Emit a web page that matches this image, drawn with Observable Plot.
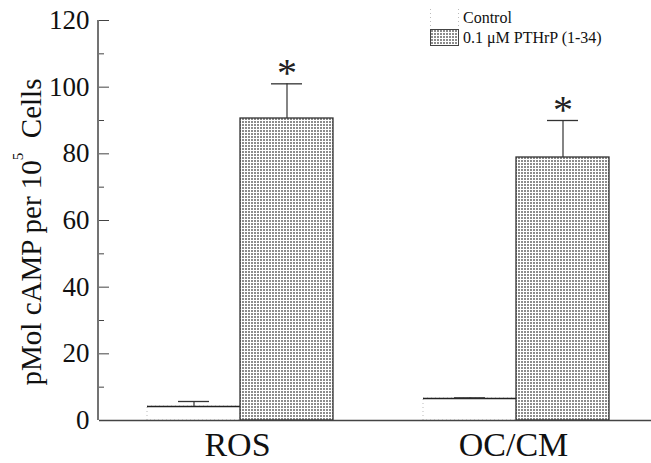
<!DOCTYPE html>
<html>
<head>
<meta charset="utf-8">
<script src="https://cdn.jsdelivr.net/npm/d3@7"></script>
<script src="https://cdn.jsdelivr.net/npm/@observablehq/plot@0.6"></script>
<style>
  html, body { margin: 0; padding: 0; background: #fff; }
  #wrap { position: relative; width: 651px; height: 463px; font-family: "Liberation Serif", "Times New Roman", serif; }
  #legend { position: absolute; left: 430px; top: 8px; font-size: 16px; color: #111; }
  .item { display: flex; align-items: center; height: 19px; margin-bottom: 1px; }
  .item svg { margin-right: 4px; display: block; }
</style>
</head>
<body>
<div id="wrap">
  <div id="chart"></div>
  <div id="legend"></div>
</div>
<script>
const groups = ["ROS", "OC/CM"];
const series = ["Control", "0.1 μM PTHrP (1-34)"];
const controlValues = [4.2, 6.6];
const controlErrors = [1.5, 0.2];
const pthrpValues = [90.6, 78.9];
const pthrpErrors = [10.4, 11.1];
const significant = [true, true];
const yTicks = [0, 20, 40, 60, 80, 100, 120];
const yMinorTicks = [10, 30, 50, 70, 90, 110];
const yLabelMain = "pMol cAMP per 10";
const yLabelSup = "5";
const yLabelEnd = "Cells";

const data = [];
groups.forEach((g, i) => {
  data.push({group: g, series: series[0], value: controlValues[i], err: controlErrors[i], sig: false});
  data.push({group: g, series: series[1], value: pthrpValues[i], err: pthrpErrors[i], sig: significant[i]});
});
const ctrl = data.filter(d => d.series === series[0]);
const pth = data.filter(d => d.series === series[1]);

const font = "Liberation Serif, Times New Roman, serif";

const chart = Plot.plot({
  width: 651,
  height: 463,
  marginLeft: 98,
  marginRight: 0,
  marginTop: 20,
  marginBottom: 43,
  style: {fontFamily: font, color: "#111", background: "#fff"},
  fx: {domain: groups, padding: 0, label: null},
  x: {domain: series, paddingInner: 0, paddingOuter: 0.479, align: 0.536, axis: null},
  y: {domain: [0, 120], label: null},
  marks: [
    Plot.rectY(ctrl, {fx: "group", x: "series", y: "value", fill: "#fff", stroke: "#bbb", strokeDasharray: "1,3", strokeWidth: 1}),
    Plot.tickY(ctrl, {fx: "group", x: "series", y: "value", stroke: "#222", strokeWidth: 1.3}),
    Plot.rectY(pth, {fx: "group", x: "series", y: "value", fill: "url(#stipple)", stroke: "#333", strokeWidth: 1.3}),
    Plot.ruleX(data, {fx: "group", x: "series", y1: "value", y2: d => d.value + d.err, stroke: "#333", strokeWidth: 1.2}),
    Plot.tickY(data, {fx: "group", x: "series", y: d => d.value + d.err, stroke: "#333", strokeWidth: 1.3, insetLeft: 31, insetRight: 31}),
    Plot.text(data.filter(d => d.sig), {fx: "group", x: "series", y: d => d.value + d.err, text: () => "*", fontSize: 40, fill: "#222", dy: 2, lineAnchor: "bottom", fontFamily: font}),
    Plot.ruleY([0], {stroke: "#444", strokeWidth: 1.5}),
    Plot.axisY({ticks: yTicks, tickSize: 0, tickPadding: 10, fontSize: 27, fontFamily: font, fill: "#111", label: null}),
    Plot.axisY({ticks: yTicks, tickSize: -10, text: null, label: null, stroke: "#444"}),
    Plot.axisY({ticks: yMinorTicks, tickSize: -5, text: null, label: null, stroke: "#444"}),
    Plot.axisFx({anchor: "bottom", tickSize: 0, tickPadding: 11, fontSize: 34, fontFamily: font, fill: "#111", label: null})
  ]
});

const svg = d3.select(chart);
const defs = svg.insert("defs", ":first-child");
function addPattern(defsSel, id) {
  const pat = defsSel.append("pattern").attr("id", id).attr("patternUnits", "userSpaceOnUse")
    .attr("width", 3).attr("height", 3);
  pat.append("rect").attr("width", 3).attr("height", 3).attr("fill", "#fff");
  pat.append("rect").attr("x", 1).attr("y", 1).attr("width", 2).attr("height", 2).attr("fill", "#8c8c8c");
}
addPattern(defs, "stipple");

// y axis line, drawn from the y scale
const ys = chart.scale("y");
const [yb, yt] = ys.range;
svg.append("line").attr("x1", 98).attr("x2", 98).attr("y1", yb).attr("y2", yt)
  .attr("stroke", "#444").attr("stroke-width", 1.5);

// y axis label with superscript
const lab = svg.append("text")
  .attr("transform", `translate(31,${(yb + yt) / 2 + 12}) rotate(-90)`)
  .attr("text-anchor", "middle").attr("dominant-baseline", "central")
  .attr("font-family", font).attr("font-size", 29).attr("fill", "#111");
lab.append("tspan").text(yLabelMain);
lab.append("tspan").text(yLabelSup).attr("font-size", 15).attr("dy", -13);
lab.append("tspan").text("\u00a0 " + yLabelEnd).attr("dy", 13);

document.getElementById("chart").appendChild(chart);

// legend
const legend = d3.select("#legend");
series.forEach((s, i) => {
  const it = legend.append("div").attr("class", "item");
  const sw = it.append("svg").attr("width", 29).attr("height", 17);
  if (i === 0) {
    sw.append("line").attr("x1", 0.5).attr("x2", 0.5).attr("y1", 0).attr("y2", 17).attr("stroke", "#bbb").attr("stroke-dasharray", "1,3");
    sw.append("line").attr("x1", 28.5).attr("x2", 28.5).attr("y1", 0).attr("y2", 17).attr("stroke", "#bbb").attr("stroke-dasharray", "1,3");
  } else {
    addPattern(sw.append("defs"), "stippleLegend");
    sw.append("rect").attr("x", 0.5).attr("y", 0.5).attr("width", 28).attr("height", 16)
      .attr("fill", "url(#stippleLegend)").attr("stroke", "#444");
  }
  it.append("span").text(s);
});
</script>
</body>
</html>
